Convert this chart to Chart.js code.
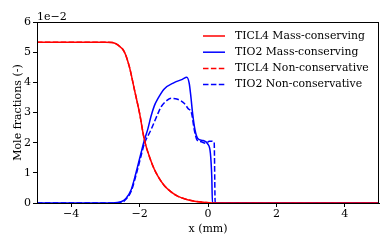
<!DOCTYPE html>
<html>
<head>
    <title>Mole fractions</title>
    <script src="https://cdn.jsdelivr.net/npm/chart.js"></script>
    <style>
        html, body { margin: 0; padding: 0; background: #fff; }
        #chart-container { width: 392px; height: 245px; }
    </style>
</head>
<body>
<div id="chart-container">
    <canvas id="moleChart" width="392" height="245"></canvas>
</div>

<script>
    // values in units of 1e-2
    const ticl4X = [-5, -4, -3, -2.8, -2.64, -2.45, -2.3, -2.15, -2.0, -1.86, -1.67, -1.57, -1.47, -1.28, -1.08, -0.89, -0.6, -0.4, -0.1, 0.14, 5];
    const ticl4Mass = [5.33, 5.33, 5.33, 5.32, 5.24, 5.02, 4.52, 3.75, 2.97, 2.09, 1.4, 1.12, 0.9, 0.58, 0.37, 0.23, 0.11, 0.06, 0.02, 0, 0];
    const ticl4NonCons = [5.33, 5.33, 5.33, 5.32, 5.24, 5.02, 4.52, 3.75, 2.97, 2.09, 1.4, 1.12, 0.9, 0.58, 0.37, 0.23, 0.11, 0.06, 0.02, 0, 0];

    const tio2MassX = [-5, -2.8, -2.54, -2.4, -2.25, -2.11, -1.96, -1.86, -1.76, -1.67, -1.57, -1.47, -1.28, -0.99, -0.75, -0.62, -0.55, -0.5, -0.45, -0.38, -0.3, -0.15, -0.01, 0.07, 0.11, 0.13, 5];
    const tio2Mass = [0, 0, 0.04, 0.15, 0.43, 0.98, 1.65, 2.09, 2.45, 2.86, 3.22, 3.45, 3.78, 3.99, 4.1, 4.17, 3.97, 3.52, 2.97, 2.42, 2.14, 2.07, 1.96, 1.65, 0.87, 0, 0];

    const tio2NonX = [-5, -2.8, -2.5, -2.4, -2.25, -2.11, -1.96, -1.86, -1.67, -1.47, -1.37, -1.2, -1.08, -0.89, -0.69, -0.59, -0.48, -0.4, -0.32, -0.2, -0.06, 0.04, 0.18, 0.21, 5];
    const tio2NonCons = [0, 0, 0.03, 0.12, 0.38, 0.9, 1.55, 1.97, 2.42, 2.95, 3.19, 3.4, 3.47, 3.44, 3.3, 3.14, 2.97, 2.42, 2.09, 2.03, 1.98, 2.05, 2.03, 0, 0];

    const xTicks = [-4, -2, 0, 2, 4];
    const yTicks = [0, 1, 2, 3, 4, 5, 6];

    const FONT = "'DejaVu Serif', serif";
    const minus = v => String(v).replace('-', '\u2212');
    const pts = (xs, ys) => xs.map((x, i) => ({x: x, y: ys[i]}));

    const series = [
        {label: 'TICL4 Mass-conserving', data: pts(ticl4X, ticl4Mass), color: '#ff0000', dash: []},
        {label: 'TIO2 Mass-conserving', data: pts(tio2MassX, tio2Mass), color: '#0000ff', dash: []},
        {label: 'TICL4 Non-conservative', data: pts(ticl4X, ticl4NonCons), color: '#ff0000', dash: [5.5, 2.4]},
        {label: 'TIO2 Non-conservative', data: pts(tio2NonX, tio2NonCons), color: '#0000ff', dash: [5.5, 2.4]}
    ];

    // frame, offset text and legend drawn by hand to follow the original layout
    const extras = {
        id: 'extras',
        afterDraw(chart) {
            const c = chart.ctx, a = chart.chartArea;
            c.save();
            c.strokeStyle = '#000';
            c.lineWidth = 1;
            c.strokeRect(a.left + 0.5, a.top + 0.5, a.right - a.left - 1, a.bottom - a.top);
            c.fillStyle = '#000';
            c.font = '11px ' + FONT;
            c.textAlign = 'left';
            c.textBaseline = 'alphabetic';
            c.fillText('1e\u22122', a.left, a.top - 2);
            // the legend text in the original is a bit wider than this font
            const sx = 130 / c.measureText(series[0].label).width;
            series.forEach((s, i) => {
                const y = 36 + i * 16.2;
                c.strokeStyle = s.color;
                c.lineWidth = 1.5;
                c.setLineDash(s.dash);
                c.beginPath();
                c.moveTo(203, y);
                c.lineTo(225, y);
                c.stroke();
                c.setLineDash([]);
                c.textBaseline = 'middle';
                c.save();
                c.translate(235, y);
                c.scale(sx, 1);
                c.fillText(s.label, 0, 0);
                c.restore();
            });
            c.restore();
        }
    };

    const ctx = document.getElementById('moleChart').getContext('2d');
    let moleChart = new Chart(ctx, {
        type: 'line',
        data: {
            datasets: series.map(s => ({
                label: s.label,
                data: s.data,
                borderColor: s.color,
                borderWidth: 1.5,
                borderDash: s.dash,
                pointRadius: 0,
                fill: false,
                cubicInterpolationMode: 'monotone'
            }))
        },
        options: {
            responsive: false,
            animation: false,
            layout: {padding: {top: 22, right: 13, left: 8, bottom: 5}},
            plugins: {legend: {display: false}, tooltip: {enabled: false}},
            scales: {
                x: {
                    type: 'linear',
                    min: -5,
                    max: 5,
                    afterBuildTicks: axis => { axis.ticks = xTicks.map(v => ({value: v})); },
                    afterFit: axis => { axis.height = 37; },
                    grid: {display: true, drawOnChartArea: false, drawTicks: true, tickLength: 4, color: '#000'},
                    border: {display: true, color: '#000', width: 1},
                    ticks: {color: '#000', font: {family: FONT, size: 11}, padding: 1, maxRotation: 0, callback: v => minus(v)},
                    title: {display: true, text: 'x (mm)', color: '#000', font: {family: FONT, size: 11}, padding: {top: 0}}
                },
                y: {
                    min: 0,
                    max: 6,
                    afterBuildTicks: axis => { axis.ticks = yTicks.map(v => ({value: v})); },
                    afterFit: axis => { axis.width = 29; },
                    grid: {display: true, drawOnChartArea: false, drawTicks: true, tickLength: 4, color: '#000'},
                    border: {display: true, color: '#000', width: 1},
                    ticks: {color: '#000', font: {family: FONT, size: 11}, padding: 2, callback: v => minus(v)},
                    title: {display: true, text: 'Mole fractions (-)', color: '#000', font: {family: FONT, size: 11}, padding: {bottom: 0}}
                }
            }
        },
        plugins: [extras]
    });
</script>
</body>
</html>
